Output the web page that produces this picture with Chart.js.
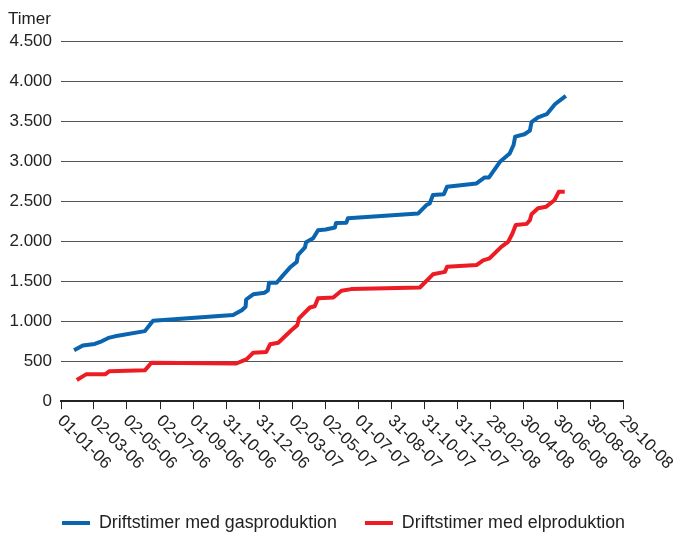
<!DOCTYPE html>
<html>
<head>
<meta charset="utf-8">
<script src="https://cdn.jsdelivr.net/npm/chart.js@4/dist/chart.umd.min.js"></script>
<style>
    body { margin: 0; background: #fff; }
    #wrap { width: 673px; height: 534px; position: relative; }
</style>
</head>
<body>
<div id="wrap"><canvas id="chart"></canvas></div>
<script>
// Datoer på x-aksen (dd-mm-yy)
const tickLabels = ["01-01-06", "02-03-06", "02-05-06", "02-07-06", "01-09-06", "31-10-06", "31-12-06",
    "02-03-07", "02-05-07", "01-07-07", "31-08-07", "31-10-07", "31-12-07", "28-02-08", "30-04-08",
    "30-06-08", "30-08-08", "29-10-08"];

// Dage efter 01-01-06 og akkumulerede driftstimer
const gasDage = [24, 40, 62, 72, 87, 99, 154, 169, 316, 332, 339, 340, 353, 374, 380, 382, 396, 408, 422,
    433, 435, 448, 450, 463, 472, 486, 503, 505, 524, 527, 656, 671, 677, 683, 703, 709, 763, 778, 786,
    806, 824, 831, 834, 851, 861, 864, 876, 892, 907, 927];
const gasTimer = [635, 695, 715, 740, 790, 810, 875, 1005, 1075, 1135, 1180, 1270, 1335, 1355, 1385, 1480,
    1480, 1575, 1680, 1740, 1825, 1920, 1985, 2035, 2135, 2145, 2170, 2225, 2230, 2285, 2345, 2450, 2470,
    2575, 2585, 2680, 2720, 2795, 2795, 2990, 3095, 3200, 3305, 3335, 3380, 3485, 3545, 3585, 3710, 3815];

const elDage = [29, 46, 81, 89, 154, 166, 322, 341, 353, 377, 384, 399, 423, 434, 437, 457, 466, 472, 500,
    515, 533, 659, 683, 705, 709, 763, 775, 787, 809, 821, 829, 835, 855, 861, 864, 876, 891, 906, 914, 925];
const elTimer = [265, 335, 335, 375, 385, 480, 470, 525, 605, 615, 710, 730, 885, 950, 1035, 1170, 1185,
    1285, 1295, 1380, 1400, 1420, 1585, 1615, 1680, 1700, 1760, 1785, 1930, 1990, 2095, 2200, 2215, 2260,
    2335, 2410, 2430, 2510, 2615, 2615];

const yTicks = [0, 500, 1000, 1500, 2000, 2500, 3000, 3500, 4000, 4500];

const FONT = '"Liberation Sans", Arial, sans-serif';
const TEXT_COLOR = "#222";

function dayOf(label) {
    const [d, m, y] = label.split("-").map(Number);
    return Math.round((Date.UTC(2000 + y, m - 1, d) - Date.UTC(2006, 0, 1)) / 86400000);
}

const tickDays = tickLabels.map(dayOf);

function thousands(v) {
    return String(v).replace(/\B(?=(\d{3})+(?!\d))/g, ".");
}

// Skrå datoetiketter (tekst går ned mod højre fra hvert tick) og "Timer" over y-aksen
const labelsPlugin = {
    id: "labelsPlugin",
    afterDraw(chart) {
        const { ctx, scales: { x, y } } = chart;
        ctx.save();
        ctx.font = `17px ${FONT}`;
        ctx.fillStyle = TEXT_COLOR;
        ctx.textAlign = "left";
        ctx.textBaseline = "middle";
        tickLabels.forEach((label, i) => {
            const px = x.getPixelForValue(tickDays[i]);
            ctx.save();
            ctx.translate(px - 1, y.bottom + 17);
            ctx.rotate(Math.PI / 4);
            ctx.fillText(label, 0, 0);
            ctx.restore();
        });
        ctx.fillText("Timer", 8, 19);
        ctx.restore();
    },
};

new Chart(document.getElementById("chart"), {
    type: "line",
    data: {
        datasets: [
            {
                label: "Driftstimer med gasproduktion",
                data: gasDage.map((d, i) => ({ x: d, y: gasTimer[i] })),
                borderColor: "#0a64b0",
                backgroundColor: "#0a64b0",
                borderWidth: 4,
                pointRadius: 0,
                borderJoinStyle: "round",
            },
            {
                label: "Driftstimer med elproduktion",
                data: elDage.map((d, i) => ({ x: d, y: elTimer[i] })),
                borderColor: "#ed1c24",
                backgroundColor: "#ed1c24",
                borderWidth: 4,
                pointRadius: 0,
                borderJoinStyle: "round",
            },
        ],
    },
    options: {
        responsive: true,
        maintainAspectRatio: false,
        animation: false,
        events: [],
        layout: {
            padding: { left: 8, right: -6, top: 41, bottom: -8 },
        },
        scales: {
            x: {
                type: "linear",
                min: 0,
                max: tickDays[tickDays.length - 1],
                afterBuildTicks: (scale) => {
                    scale.ticks = tickDays.map((v) => ({ value: v }));
                },
                afterFit: (scale) => {
                    scale.height = 85;
                },
                ticks: { display: false },
                grid: {
                    drawOnChartArea: false,
                    drawTicks: true,
                    tickLength: 8,
                    color: "#222",
                    lineWidth: 1,
                },
                border: { display: true, color: "#222", width: 2 },
            },
            y: {
                min: 0,
                max: 4500,
                afterBuildTicks: (scale) => {
                    scale.ticks = yTicks.map((v) => ({ value: v }));
                },
                afterFit: (scale) => {
                    scale.width = 53;
                },
                ticks: {
                    padding: 9,
                    color: TEXT_COLOR,
                    font: { family: FONT, size: 17 },
                    callback: (v) => thousands(v),
                },
                grid: {
                    color: "#555",
                    lineWidth: 1,
                    drawTicks: false,
                },
                border: { display: false },
            },
            // tom højre margin
            margin: {
                position: "right",
                min: 0,
                max: 1,
                ticks: { display: false },
                grid: { display: false },
                border: { display: false },
                afterFit: (scale) => {
                    scale.width = 56;
                },
            },
        },
        plugins: {
            tooltip: { enabled: false },
            legend: {
                position: "bottom",
                labels: {
                    boxWidth: 28,
                    boxHeight: 4,
                    padding: 28,
                    color: TEXT_COLOR,
                    font: { family: FONT, size: 17.85 },
                    generateLabels: (chart) =>
                        Chart.defaults.plugins.legend.labels
                            .generateLabels(chart)
                            .map((item) => ({ ...item, lineWidth: 0 })),
                },
            },
        },
    },
    plugins: [labelsPlugin],
});
</script>
</body>
</html>
